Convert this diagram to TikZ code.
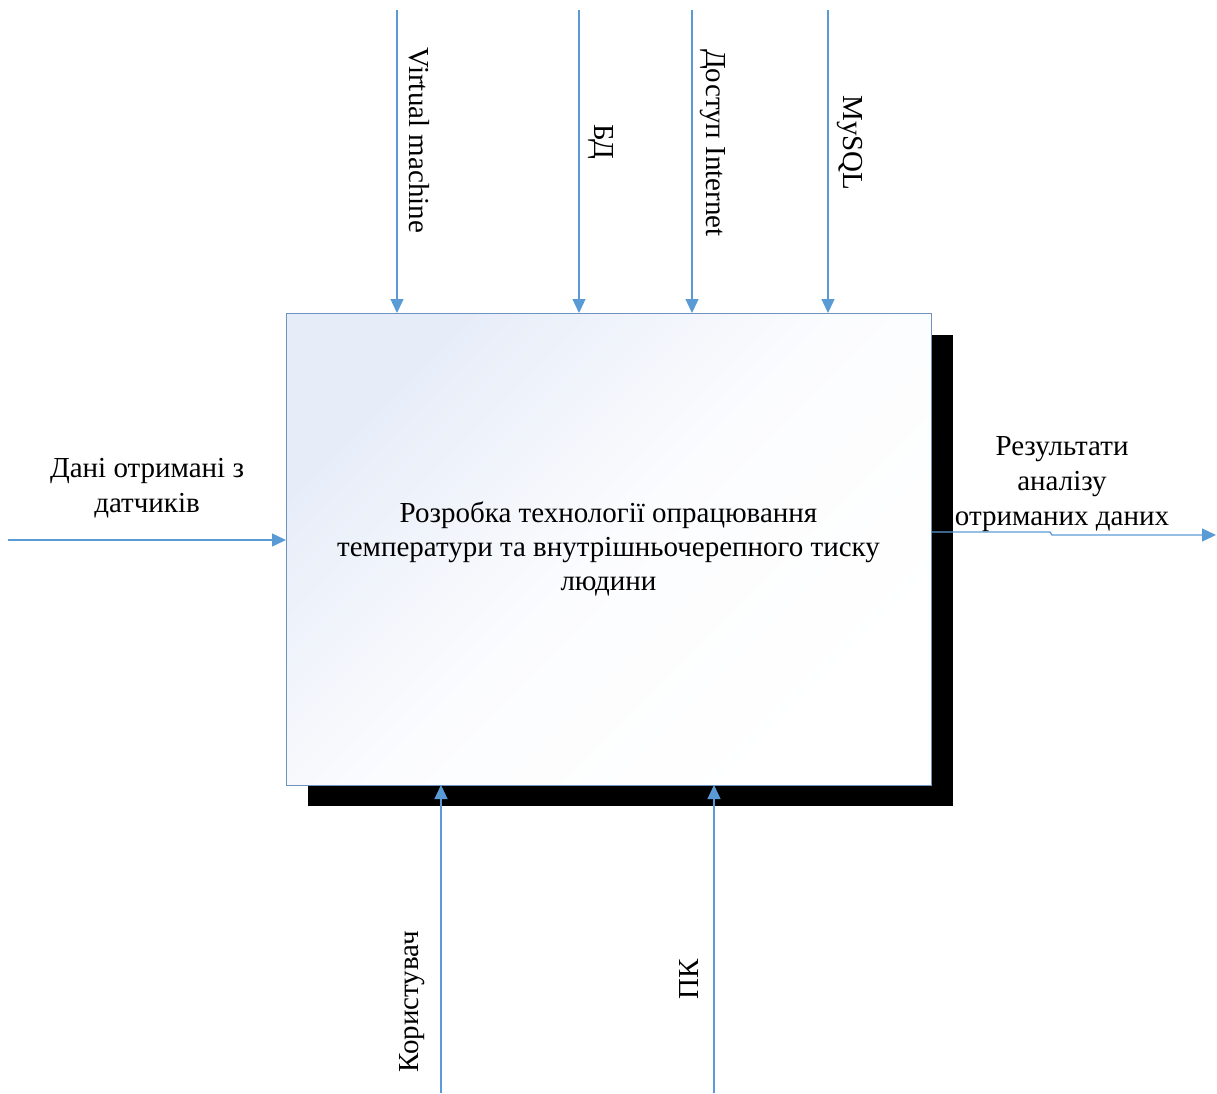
\documentclass[tikz,border=0pt]{standalone}
\usepackage{fontspec}
\setmainfont{Liberation Serif}
\usetikzlibrary{arrows.meta}
\definecolor{lineblue}{RGB}{91,155,213}
\definecolor{boxedge}{RGB}{112,146,190}
\definecolor{boxtl}{RGB}{230,236,248}
\begin{document}
\begin{tikzpicture}[x=1pt,y=-1pt,
  arr/.style={draw=lineblue, line width=1.3pt, -{Triangle[length=14pt,width=13pt]}},
  lbl/.style={font=\fontsize{29}{35}\selectfont, align=center, inner sep=0pt},
  mainbox/.style={draw=boxedge, line width=0.9pt, minimum width=645pt, minimum height=472pt,
    inner sep=0pt, outer sep=0pt, top color=boxtl, bottom color=white, middle color=white!85!boxtl, shading angle=45,
    font=\fontsize{29}{34}\selectfont, align=center}]
\useasboundingbox (0,0) rectangle (1217,1093);
\fill[black] (308,335) rectangle (953,806);
\node[mainbox] (box) at (608.5,549) {Розробка технології опрацювання\\температури та внутрішньочерепного тиску\\людини};
% top arrows
\coordinate (t1) at (397,10);
\coordinate (t2) at (579,10);
\coordinate (t3) at (692,10);
\coordinate (t4) at (828,10);
\draw[arr] (t1) -- (t1 |- box.north);
\draw[arr] (t2) -- (t2 |- box.north);
\draw[arr] (t3) -- (t3 |- box.north);
\draw[arr] (t4) -- (t4 |- box.north);
\node[lbl, rotate=-90] (lt1) at (419,140) {Virtual machine};
\node[lbl, rotate=-90] (lt2) at (601,142) {БД};
\node[lbl, rotate=-90] (lt3) at (713,143) {Доступ Internet};
\node[lbl, rotate=-90] (lt4) at (850,143) {MySQL};
% left input
\coordinate (inL) at (8,540);
\draw[arr] (inL) -- (inL -| box.west);
\node[lbl] (lin) at (147,488) {Дані отримані з\\датчиків};
% output
\coordinate (outS) at (1050,532);
\coordinate (outE) at (1216,535);
\draw[arr] (box.east |- outS) -- (outS) -- ++(2,3) -- (outE);
\node[lbl] (lout) at (1062,484) {Результати\\аналізу\\отриманих даних};
% bottom arrows
\coordinate (b1) at (441,1093);
\coordinate (b2) at (714,1093);
\draw[arr] (b1) -- (b1 |- box.south);
\draw[arr] (b2) -- (b2 |- box.south);
\node[lbl, rotate=90] (lb1) at (412,1002) {Користувач};
\node[lbl, rotate=90] (lb2) at (689,979) {ПК};
\end{tikzpicture}
\end{document}
